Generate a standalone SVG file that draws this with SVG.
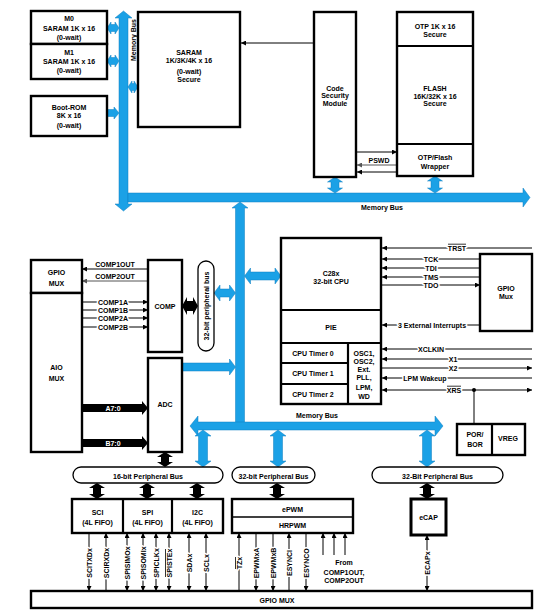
<svg xmlns="http://www.w3.org/2000/svg" width="554" height="615" viewBox="0 0 554 615">
<defs>
<marker id="ah" viewBox="0 0 10 10" refX="10" refY="5" markerWidth="5" markerHeight="5" orient="auto-start-reverse" markerUnits="userSpaceOnUse"><path d="M0,0 L10,5 L0,10 z" fill="#000"/></marker>
<marker id="ahg" viewBox="0 0 10 10" refX="10" refY="5" markerWidth="5" markerHeight="5" orient="auto-start-reverse" markerUnits="userSpaceOnUse"><path d="M0,0 L10,5 L0,10 z" fill="#555"/></marker>
</defs>
<style>
.t{font-family:"Liberation Sans",Arial,sans-serif;font-size:7px;font-weight:bold;text-anchor:middle;fill:#000}
.h{stroke:#fff;stroke-width:3;paint-order:stroke;stroke-linejoin:round}
.w{fill:#fff}
.bx{fill:#fff;stroke:#000;stroke-width:2.4}
.tk{fill:#fff;stroke:#000;stroke-width:3}
.cap{fill:#fff;stroke:#000;stroke-width:1.3}
.ln{stroke:#000;stroke-width:1;fill:none}
.lg{stroke:#555;stroke-width:1;fill:none}
.ol{stroke:#000;stroke-width:0.8}
.dv{stroke:#000;stroke-width:2.2}
.bl{fill:#1ba1e6;stroke:#0e7fc0;stroke-width:0.5}
.bk{fill:#000}
</style>

<g id="connectors">
<!-- blue buses -->
<polygon class="bl" points="123.5,11 132,18 128,18 128,204 132,204 123.5,211 115,204 119,204 119,18 115,18"/>
<polygon class="bl" points="128,193 523,193 523,188 530,197.5 523,207 523,202 128,202"/>
<polygon class="bl" points="107,28 111,22 111,24.5 115,24.5 115,22 119,28 115,34 115,31.5 111,31.5 111,34"/>
<polygon class="bl" points="107,61 111,55 111,57.5 115,57.5 115,55 119,61 115,67 115,64.5 111,64.5 111,67"/>
<polygon class="bl" points="107,109.5 114,109.5 114,107 119,113 114,119 114,116.5 107,116.5"/>
<polygon class="bl" points="128,87 132,81 132,83.5 134,83.5 134,81 138,87 134,93 134,90.5 132,90.5 132,93"/>
<polygon class="bl" points="335,177 342.5,182 339,182 339,188 342.5,188 335,193 327.5,188 331,188 331,182 327.5,182"/>
<polygon class="bl" points="435,176 442.5,181 439,181 439,188 442.5,188 435,193 427.5,188 431,188 431,181 427.5,181"/>
<polygon class="bl" points="240,202 248,208 244.5,208 244.5,423 235.5,423 235.5,208 232,208"/>
<polygon class="bl" points="244.5,276 250.5,268 250.5,272 275,272 275,268 281,276 275,284 275,280 250.5,280 250.5,284"/>
<polygon class="bl" points="214,293 220,285 220,289 229.5,289 229.5,285 235.5,293 229.5,301 229.5,297 220,297 220,301"/>
<polygon class="bl" points="182,363 229.5,363 229.5,359 235.5,367 229.5,375 229.5,371 182,371"/>
<polygon class="bl" points="190,426 198,416 198,422 435,422 435,416 443,426 435,436 435,430 198,430 198,436"/>
<polygon class="bl" points="203,430 211,436 207.5,436 207.5,461 211,461 203,467 195,461 198.5,461 198.5,436 195,436"/>
<polygon class="bl" points="278,430 286,436 282.5,436 282.5,461 286,461 278,467 270,461 273.5,461 273.5,436 270,436"/>
<polygon class="bl" points="427,430 435,436 431.5,436 431.5,461 435,461 427,467 419,461 422.5,461 422.5,436 419,436"/>

<!-- black fat arrows -->
<polygon class="bk" points="182,306 187,297 187,301 193,301 193,297 198,306 193,315 193,311 187,311 187,315"/>
<polygon class="bk" points="165,452 173,457 169,457 169,462 173,462 165,467 157,462 161,462 161,457 157,457"/>
<polygon class="bk" points="97,483 105,488 101,488 101,494 105,494 97,499 89,494 93,494 93,488 89,488"/>
<polygon class="bk" points="147,483 155,488 151,488 151,494 155,494 147,499 139,494 143,494 143,488 139,488"/>
<polygon class="bk" points="197,483 205,488 201,488 201,494 205,494 197,499 189,494 193,494 193,488 189,488"/>
<polygon class="bk" points="277,483 285,488 281,488 281,494 285,494 277,499 269,494 273,494 273,488 269,488"/>
<polygon class="bk" points="427,483 435,488 431,488 431,494 435,494 427,499 419,494 423,494 423,488 419,488"/>
<polygon class="bk" points="82,404 142,404 142,401 148,408 142,415 142,412 82,412"/>
<polygon class="bk" points="82,439 142,439 142,436 148,443 142,450 142,447 82,447"/>

<!-- thin signal lines -->
<line class="ln" x1="314" y1="43" x2="241" y2="43" marker-end="url(#ah)"/>
<line class="ln" x1="356" y1="152" x2="397" y2="152" marker-end="url(#ah)"/>
<line class="lg" x1="397" y1="165" x2="357" y2="165" marker-end="url(#ahg)"/>
<line class="ln" x1="397" y1="172" x2="357" y2="172" marker-end="url(#ah)"/>

<line class="ln" x1="148" y1="269" x2="82" y2="269" marker-end="url(#ah)"/>
<line class="lg" x1="148" y1="281" x2="82" y2="281" marker-end="url(#ahg)"/>
<line class="ln" x1="82" y1="302" x2="148" y2="302" marker-end="url(#ah)"/>
<line class="ln" x1="82" y1="310" x2="148" y2="310" marker-end="url(#ah)"/>
<line class="ln" x1="82" y1="318" x2="148" y2="318" marker-end="url(#ah)"/>
<line class="ln" x1="82" y1="327" x2="148" y2="327" marker-end="url(#ah)"/>

<line class="ln" x1="532" y1="248" x2="382" y2="248" marker-end="url(#ah)"/>
<line class="ln" x1="480" y1="259" x2="382" y2="259" marker-end="url(#ah)"/>
<line class="ln" x1="480" y1="268" x2="382" y2="268" marker-end="url(#ah)"/>
<line class="ln" x1="480" y1="277" x2="382" y2="277" marker-end="url(#ah)" stroke-width="1.6"/>
<line class="ln" x1="382" y1="285" x2="480" y2="285" marker-end="url(#ah)"/>
<line class="ln" x1="480" y1="325" x2="382" y2="325" marker-end="url(#ah)"/>
<line class="ln" x1="532" y1="349" x2="382" y2="349" marker-end="url(#ah)"/>
<line class="ln" x1="532" y1="359" x2="382" y2="359" marker-end="url(#ah)"/>
<line class="ln" x1="382" y1="368" x2="532" y2="368" marker-end="url(#ah)"/>
<line class="ln" x1="532" y1="378" x2="382" y2="378" marker-end="url(#ah)" stroke-width="1.6"/>
<line class="ln" x1="382" y1="390" x2="532" y2="390" marker-start="url(#ah)" marker-end="url(#ah)"/>
<line class="ln" x1="474" y1="390" x2="474" y2="424"/>
<circle cx="474" cy="390" r="2" fill="#000"/>

<line class="ln" x1="89" y1="533" x2="89" y2="591" marker-end="url(#ah)"/>
<line class="ln" x1="106" y1="591" x2="106" y2="533" marker-end="url(#ah)"/>
<line class="ln" x1="127" y1="533" x2="127" y2="591" marker-start="url(#ah)" marker-end="url(#ah)"/>
<line class="ln" x1="143" y1="533" x2="143" y2="591" marker-start="url(#ah)" marker-end="url(#ah)"/>
<line class="ln" x1="156" y1="533" x2="156" y2="591" marker-start="url(#ah)" marker-end="url(#ah)"/>
<line class="ln" x1="169" y1="533" x2="169" y2="591" marker-start="url(#ah)" marker-end="url(#ah)"/>
<line class="ln" x1="189" y1="533" x2="189" y2="591" marker-start="url(#ah)" marker-end="url(#ah)" stroke-width="1.6"/>
<line class="ln" x1="206" y1="533" x2="206" y2="591" marker-start="url(#ah)" marker-end="url(#ah)"/>
<line class="ln" x1="239" y1="591" x2="239" y2="533" marker-end="url(#ah)"/>
<line class="ln" x1="256" y1="533" x2="256" y2="591" marker-end="url(#ah)" stroke-width="1.4"/>
<line class="ln" x1="273" y1="533" x2="273" y2="591" marker-end="url(#ah)" stroke-width="1.4"/>
<line class="ln" x1="289" y1="591" x2="289" y2="533" marker-end="url(#ah)"/>
<line class="ln" x1="306" y1="533" x2="306" y2="591" marker-end="url(#ah)"/>
<line class="ln" x1="323" y1="555" x2="323" y2="533" marker-end="url(#ah)"/>
<line class="ln" x1="334" y1="555" x2="334" y2="533" marker-end="url(#ah)"/>
<line class="ln" x1="345" y1="555" x2="345" y2="533" marker-end="url(#ah)"/>
<line class="ln" x1="427" y1="535" x2="427" y2="591" marker-start="url(#ah)" marker-end="url(#ah)"/>

<!-- connector labels -->
<text class="t" transform="translate(133,40) rotate(-90)" y="2.5">Memory Bus</text>
<text class="t" x="382" y="209.5">Memory Bus</text>
<text class="t" x="317" y="417.5">Memory Bus</text>
<text class="t" x="379" y="163">PSWD</text>
<text class="t" x="115" y="267">COMP1OUT</text>
<text class="t" x="115" y="279">COMP2OUT</text>
<text class="t h" x="113" y="304.5">COMP1A</text>
<text class="t h" x="113" y="312.5">COMP1B</text>
<text class="t h" x="113" y="320.5">COMP2A</text>
<text class="t h" x="113" y="329.5">COMP2B</text>
<text class="t w" x="113" y="410.5">A7:0</text>
<text class="t w" x="113" y="445.5">B7:0</text>
<text class="t h" x="457" y="250.5">TRST</text>
<line class="ol" x1="448" y1="244.2" x2="466" y2="244.2"/>
<text class="t h" x="431" y="261.5">TCK</text>
<text class="t h" x="431" y="270.5">TDI</text>
<text class="t h" x="431" y="279.5">TMS</text>
<text class="t h" x="431" y="287.5">TDO</text>
<text class="t h" x="432" y="327.5">3 External Interrupts</text>
<text class="t h" x="431" y="351.5">XCLKIN</text>
<text class="t h" x="453" y="361.5">X1</text>
<text class="t h" x="453" y="370.5">X2</text>
<text class="t h" x="425" y="380.5">LPM Wakeup</text>
<text class="t h" x="454" y="392.5">XRS</text>
<line class="ol" x1="447" y1="386.2" x2="461" y2="386.2"/>
<text class="t h" transform="translate(89,563) rotate(-90)" y="2.5">SCITXDx</text>
<text class="t h" transform="translate(106,563) rotate(-90)" y="2.5">SCIRXDx</text>
<text class="t h" transform="translate(127,563) rotate(-90)" y="2.5">SPISIMOx</text>
<text class="t h" transform="translate(143,563) rotate(-90)" y="2.5">SPISOMIx</text>
<text class="t h" transform="translate(156,563) rotate(-90)" y="2.5">SPICLKx</text>
<text class="t h" transform="translate(169,563) rotate(-90)" y="2.5">SPISTEx</text>
<line class="ol" x1="165.5" y1="549" x2="165.5" y2="577"/>
<text class="t h" transform="translate(189,563) rotate(-90)" y="2.5">SDAx</text>
<text class="t h" transform="translate(206,563) rotate(-90)" y="2.5">SCLx</text>
<text class="t h" transform="translate(239,563) rotate(-90)" y="2.5">TZx</text>
<line class="ol" x1="235.5" y1="557" x2="235.5" y2="569"/>
<text class="t h" transform="translate(256,563) rotate(-90)" y="2.5">EPWMxA</text>
<text class="t h" transform="translate(273,563) rotate(-90)" y="2.5">EPWMxB</text>
<text class="t h" transform="translate(289,563) rotate(-90)" y="2.5">ESYNCI</text>
<text class="t h" transform="translate(306,563) rotate(-90)" y="2.5">ESYNCO</text>
<text class="t h" transform="translate(427,563) rotate(-90)" y="2.5">ECAPx</text>
<text class="t" x="344" y="564.5">From</text>
<text class="t" x="344" y="574.5">COMP1OUT,</text>
<text class="t" x="344" y="582.5">COMP2OUT</text>
</g>

<g id="m0"><rect class="bx" x="31" y="11" width="76" height="33"/><text class="t" x="69" y="20.5">M0</text><text class="t" x="69" y="30.5">SARAM 1K x 16</text><text class="t" x="69" y="39.5">(0-wait)</text></g>
<g id="m1"><rect class="bx" x="31" y="44" width="76" height="35"/><text class="t" x="69" y="54.5">M1</text><text class="t" x="69" y="63.5">SARAM 1K x 16</text><text class="t" x="69" y="72.5">(0-wait)</text></g>
<g id="bootrom"><rect class="bx" x="31" y="96" width="76" height="40"/><text class="t" x="69" y="109.5">Boot-ROM</text><text class="t" x="69" y="117.5">8K x 16</text><text class="t" x="69" y="127.5">(0-wait)</text></g>
<g id="saram"><rect class="bx" x="138" y="12" width="102" height="115"/><text class="t" x="189" y="54.5">SARAM</text><text class="t" x="189" y="62.5">1K/3K/4K x 16</text><text class="t" x="189" y="73.5">(0-wait)</text><text class="t" x="189" y="81.5">Secure</text></g>
<g id="csm"><rect class="bx" x="314" y="12" width="42" height="165"/><text class="t" x="335" y="90.5">Code</text><text class="t" x="335" y="97.5">Security</text><text class="t" x="335" y="105.5">Module</text></g>
<g id="flash"><rect class="bx" x="397" y="12" width="76" height="164"/><line class="dv" x1="397" y1="46" x2="473" y2="46"/><line class="dv" x1="397" y1="144" x2="473" y2="144"/>
<text class="t" x="435" y="28.5">OTP 1K x 16</text><text class="t" x="435" y="36.5">Secure</text>
<text class="t" x="435" y="90.5">FLASH</text><text class="t" x="435" y="98.5">16K/32K x 16</text><text class="t" x="435" y="105.5">Secure</text>
<text class="t" x="435" y="159.5">OTP/Flash</text><text class="t" x="435" y="168.5">Wrapper</text></g>
<g id="gpiomux-left"><rect class="bx" x="31" y="260" width="51" height="33"/><text class="t" x="56.5" y="274.5">GPIO</text><text class="t" x="56.5" y="285.5">MUX</text></g>
<g id="aiomux"><rect class="bx" x="31" y="293" width="51" height="159"/><text class="t" x="56.5" y="369.5">AIO</text><text class="t" x="56.5" y="380.5">MUX</text></g>
<g id="comp"><rect class="bx" x="148" y="260" width="34" height="92"/><text class="t" x="165" y="308.5">COMP</text></g>
<g id="adc"><rect class="bx" x="148" y="358" width="34" height="94"/><text class="t" x="165" y="406.5">ADC</text></g>
<g id="pbus32v"><rect class="cap" x="198" y="261" width="16" height="90" rx="8"/><text class="t" transform="translate(206,306) rotate(-90)" y="2.5">32-bit peripheral bus</text></g>
<g id="cpu"><rect class="bx" x="281" y="238" width="100" height="166"/>
<line class="dv" x1="281" y1="310" x2="381" y2="310"/>
<line class="dv" x1="281" y1="343" x2="381" y2="343"/>
<line class="dv" x1="348" y1="343" x2="348" y2="404"/>
<line class="dv" x1="281" y1="363" x2="348" y2="363"/>
<line class="dv" x1="281" y1="384" x2="348" y2="384"/>
<text class="t" x="331" y="275.5">C28x</text><text class="t" x="331" y="283.5">32-bit CPU</text>
<text class="t" x="331" y="329.5">PIE</text>
<text class="t" x="313" y="355.5">CPU Timer 0</text><text class="t" x="313" y="375.5">CPU Timer 1</text><text class="t" x="313" y="396.5">CPU Timer 2</text>
<text class="t" x="364" y="355.5">OSC1,</text><text class="t" x="364" y="363.5">OSC2,</text><text class="t" x="364" y="371.5">Ext.</text><text class="t" x="364" y="379.5">PLL,</text><text class="t" x="364" y="389.5">LPM,</text><text class="t" x="364" y="398.5">WD</text></g>
<g id="gpiomux-right"><rect class="bx" x="480" y="254" width="52" height="77"/><text class="t" x="506" y="290.5">GPIO</text><text class="t" x="506" y="298.5">Mux</text></g>
<g id="porvreg"><rect class="bx" x="457" y="424" width="68" height="31"/><line class="dv" x1="492" y1="424" x2="492" y2="455"/>
<text class="t" x="475" y="436.5">POR/</text><text class="t" x="475" y="446.5">BOR</text><text class="t" x="508" y="440.5">VREG</text></g>
<g id="pbus16"><rect class="cap" x="73" y="467" width="150" height="16" rx="8"/><text class="t" x="148" y="478.5">16-bit Peripheral Bus</text></g>
<g id="pbus32a"><rect class="cap" x="232" y="467" width="83" height="16" rx="8"/><text class="t" x="273.5" y="478.5">32-bit Peripheral Bus</text></g>
<g id="pbus32b"><rect class="cap" x="372" y="467" width="131" height="16" rx="8"/><text class="t" x="437.5" y="478.5">32-Bit Peripheral Bus</text></g>
<g id="serial"><rect class="bx" x="72" y="499" width="151" height="34"/><line class="dv" x1="123" y1="499" x2="123" y2="533"/><line class="dv" x1="172" y1="499" x2="172" y2="533"/>
<text class="t" x="97.5" y="514.5">SCI</text><text class="t" x="97.5" y="524.5">(4L FIFO)</text>
<text class="t" x="147.5" y="514.5">SPI</text><text class="t" x="147.5" y="524.5">(4L FIFO)</text>
<text class="t" x="197.5" y="514.5">I2C</text><text class="t" x="197.5" y="524.5">(4L FIFO)</text></g>
<g id="epwm"><rect class="bx" x="232" y="499" width="121" height="34"/><line x1="232" y1="517" x2="353" y2="517" stroke="#000" stroke-width="1.5"/>
<text class="t" x="292.5" y="511.5">ePWM</text><text class="t" x="292.5" y="527.5">HRPWM</text></g>
<g id="ecap"><rect class="tk" x="411" y="499" width="35" height="36"/><text class="t" x="428.5" y="519.5">eCAP</text></g>
<g id="gpiomux-bottom"><rect class="bx" x="31" y="591" width="501" height="17" stroke-width="2.6"/><text class="t" x="277" y="602.5">GPIO MUX</text></g>
</svg>
